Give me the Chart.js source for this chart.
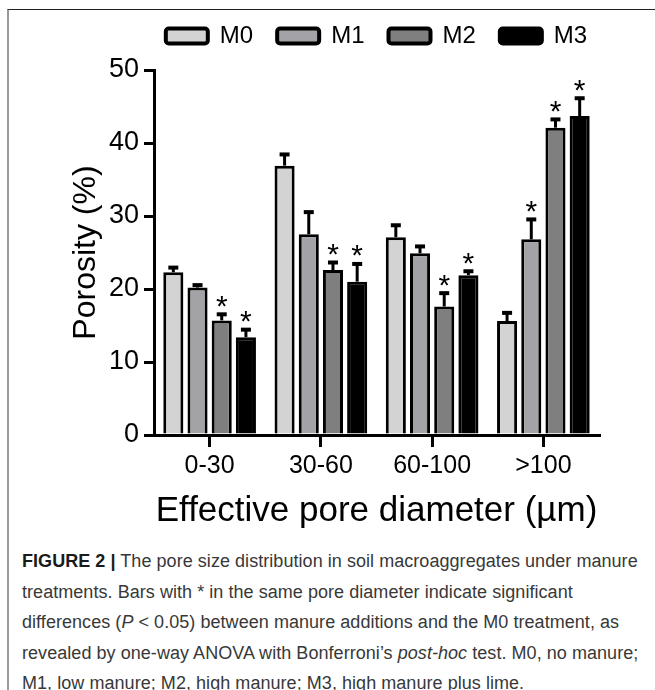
<!DOCTYPE html>
<html>
<head>
<meta charset="utf-8">
<script src="https://cdn.jsdelivr.net/npm/chart.js@4.4.1/dist/chart.umd.min.js"></script>
<style>
  html, body { margin: 0; padding: 0; background: #fff; }
  body { width: 655px; height: 690px; position: relative; overflow: hidden; }
  #frame {
    position: absolute; left: 7px; top: 9px; width: 648px; height: 681px;
    border-top: 1.5px solid #222; border-left: 2px solid #9a9a9a;
  }
  #chart-wrap { position: absolute; left: 0; top: 0; width: 655px; height: 535px; }
  #caption {
    position: absolute; left: 22px; top: 546px; width: 630px;
    font-family: "Liberation Sans", Arial, sans-serif; font-size: 18px;
    letter-spacing: 0.05px;
    line-height: 30.5px; color: #383838; white-space: nowrap;
  }
  #caption b { color: #1a1a1a; }
</style>
</head>
<body>
<div id="frame"></div>
<div id="chart-wrap"><canvas id="poreChart" width="655" height="535"></canvas></div>
<div id="caption">
  <b>FIGURE 2 |</b> The pore size distribution in soil macroaggregates under manure<br>
  treatments. Bars with * in the same pore diameter indicate significant<br>
  differences (<i>P</i> &lt; 0.05) between manure additions and the M0 treatment, as<br>
  revealed by one-way ANOVA with Bonferroni’s <i>post-hoc</i> test. M0, no manure;<br>
  M1, low manure; M2, high manure; M3, high manure plus lime.
</div>
<script>
(function() {
    'use strict';

    // ── Data ───────────────────────────────────────────────
    const categories = ['0-30', '30-60', '60-100', '>100'];
    const seriesNames = ['M0', 'M1', 'M2', 'M3'];

    const m0 = [22.3, 36.9, 27.1, 15.6];
    const m1 = [20.2, 27.5, 24.9, 26.8];
    const m2 = [15.7, 22.6, 17.6, 42.1];
    const m3 = [13.4, 21.0, 21.9, 43.7];

    const m0Err = [0.7, 1.6, 1.7, 1.2];
    const m1Err = [0.4, 3.1, 1.0, 2.8];
    const m2Err = [0.9, 1.1, 1.9, 1.2];
    const m3Err = [1.1, 2.5, 0.6, 2.5];

    // significant vs M0 (asterisk)
    const m0Sig = [false, false, false, false];
    const m1Sig = [false, false, false, true];
    const m2Sig = [true, true, true, true];
    const m3Sig = [true, true, true, true];

    const yTicks = [0, 10, 20, 30, 40, 50];

    const fills = ['#d3d3d3', '#a3a2a7', '#7f7f7f', '#000000'];
    const FONT = "'Liberation Sans', Arial, sans-serif";

    const values = [m0, m1, m2, m3];
    const errors = [m0Err, m1Err, m2Err, m3Err];
    const sigs = [m0Sig, m1Sig, m2Sig, m3Sig];

    // ── Error bars + asterisks ─────────────────────────────
    const errorBarPlugin = {
        id: 'errorBars',
        afterDatasetsDraw(chart) {
            const ctx = chart.ctx;
            const yScale = chart.scales.y;
            ctx.save();
            chart.data.datasets.forEach((ds, di) => {
                const meta = chart.getDatasetMeta(di);
                meta.data.forEach((bar, i) => {
                    const top = yScale.getPixelForValue(values[di][i] + errors[di][i]);
                    ctx.strokeStyle = '#000';
                    ctx.lineWidth = 3;
                    ctx.beginPath();
                    ctx.moveTo(bar.x, bar.y);
                    ctx.lineTo(bar.x, top);
                    ctx.stroke();
                    ctx.fillStyle = '#000';
                    ctx.fillRect(bar.x - 5, top - 1.5, 10, 4);
                    if (sigs[di][i]) {
                        ctx.font = '30px ' + FONT;
                        ctx.textAlign = 'center';
                        ctx.textBaseline = 'alphabetic';
                        ctx.fillText('*', bar.x, top + 2);
                    }
                });
            });
            ctx.restore();
        }
    };

    // keep the legend on one row and leave a gap under it
    const legendSpacePlugin = {
        id: 'legendSpace',
        beforeUpdate(chart) {
            const lg = chart.legend;
            if (!lg || lg._patched) return;
            const origFit = lg.fit.bind(lg);
            lg.fit = function() {
                const mw = this.maxWidth;
                this.maxWidth = mw + 120;
                origFit();
                this.maxWidth = mw;
                this.width = Math.min(this.width, mw);
                this.height += 12;
            };
            const origDraw = lg._draw.bind(lg);
            lg._draw = function() {
                this.left -= 60; this.right += 60;
                origDraw();
                this.left += 60; this.right -= 60;
            };
            lg._patched = true;
        }
    };

    const ctx = document.getElementById('poreChart').getContext('2d');

    new Chart(ctx, {
        type: 'bar',
        data: {
            labels: categories,
            datasets: seriesNames.map((name, i) => ({
                label: name,
                data: values[i],
                backgroundColor: fills[i],
                borderColor: '#000',
                borderWidth: 3,
                borderSkipped: 'start',
                categoryPercentage: 0.87,
                barPercentage: 0.83
            }))
        },
        options: {
            responsive: false,
            animation: false,
            devicePixelRatio: 1,
            layout: { padding: { top: 0, right: 56, bottom: 0, left: 0 } },
            plugins: {
                legend: {
                    position: 'top',
                    fullSize: false,
                    labels: {
                        boxWidth: 42,
                        boxHeight: 15,
                        padding: 24,
                        color: '#000',
                        useBorderRadius: true,
                        borderRadius: 3,
                        font: { size: 24, family: FONT },
                        generateLabels(chart) {
                            const items = Chart.defaults.plugins.legend.labels.generateLabels(chart);
                            return items.map(it => Object.assign(it, { lineWidth: 4 }));
                        }
                    }
                },
                tooltip: { enabled: false }
            },
            scales: {
                x: {
                    afterFit(scale) { scale.height = 100; },
                    grid: {
                        offset: false,
                        drawOnChartArea: false,
                        drawTicks: true,
                        tickLength: 12,
                        lineWidth: 3,
                        color: '#000'
                    },
                    border: { display: true, color: '#000', width: 3 },
                    ticks: { color: '#000', padding: 4, font: { size: 25, family: FONT } },
                    title: {
                        display: true,
                        text: 'Effective pore diameter (µm)',
                        color: '#000',
                        font: { size: 35, family: FONT },
                        padding: { top: 0, bottom: 3 }
                    }
                },
                y: {
                    min: 0,
                    max: 50,
                    afterFit(scale) { scale.width = 154; },
                    afterBuildTicks(scale) { scale.ticks = yTicks.map(v => ({ value: v })); },
                    grid: {
                        drawOnChartArea: false,
                        drawTicks: true,
                        tickLength: 10,
                        lineWidth: 3,
                        color: '#000'
                    },
                    border: { display: true, color: '#000', width: 3 },
                    ticks: { color: '#000', padding: 5, font: { size: 27, family: FONT } },
                    title: {
                        display: true,
                        text: 'Porosity (%)',
                        color: '#000',
                        font: { size: 32, family: FONT },
                        padding: { top: 67, bottom: 0 }
                    }
                }
            }
        },
        plugins: [errorBarPlugin, legendSpacePlugin]
    });
})();
</script>
</body>
</html>
